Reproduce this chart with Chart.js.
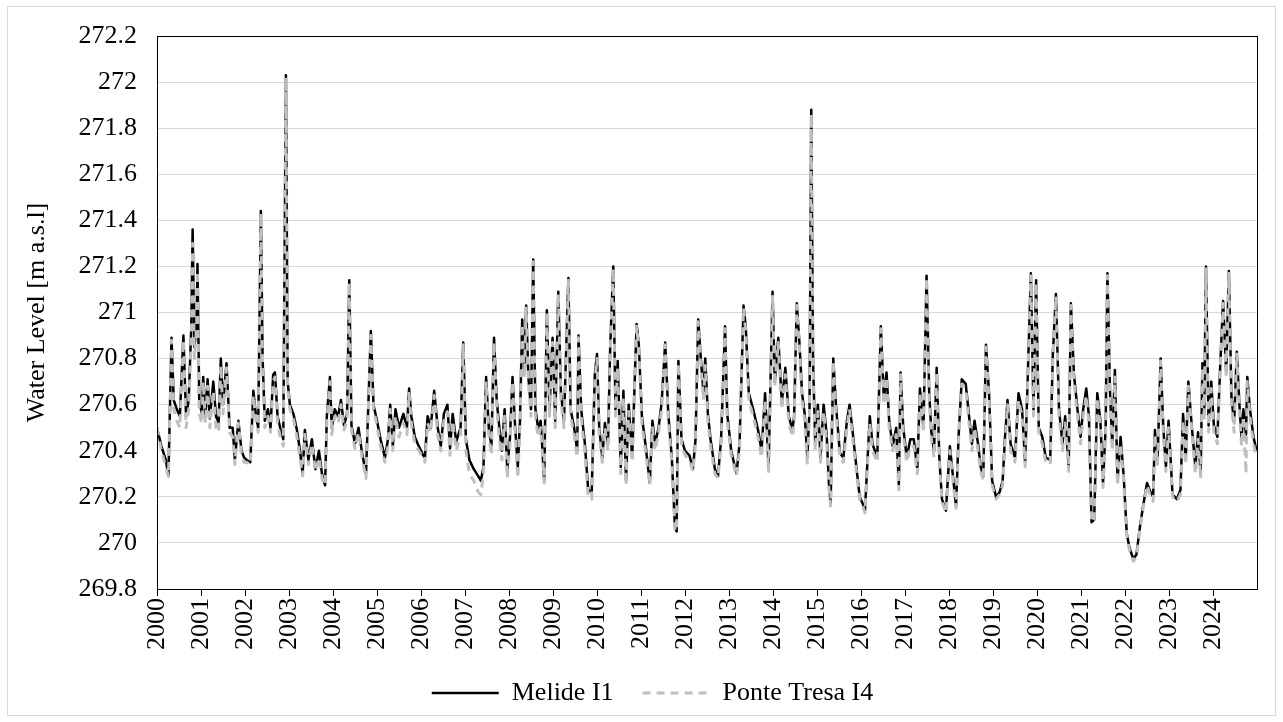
<!DOCTYPE html>
<html lang="en">
<head>
    <meta charset="UTF-8">
    <title>Water Level - Melide I1 / Ponte Tresa I4</title>
    <script src="https://cdn.jsdelivr.net/npm/chart.js"></script>
    <style>
        body { margin: 0; background: #fff; }
        #wrap { width: 1283px; height: 722px; position: relative; }
    </style>
</head>
<body>
    <div id="wrap"><canvas id="levelChart"></canvas></div>

    <script>
        // decimal year of each reading (one row per year)
        const dates = [
            2000.00, 2000.10, 2000.20, 2000.26, 2000.33, 2000.38, 2000.45, 2000.52, 2000.60, 2000.66, 2000.72, 2000.78, 2000.81, 2000.85, 2000.90, 2000.92, 2000.96,
            2001.02, 2001.05, 2001.10, 2001.15, 2001.20, 2001.28, 2001.34, 2001.40, 2001.45, 2001.50, 2001.58, 2001.65, 2001.72, 2001.77, 2001.85, 2001.92, 2001.98,
            2002.04, 2002.12, 2002.19, 2002.25, 2002.30, 2002.36, 2002.40, 2002.45, 2002.52, 2002.58, 2002.64, 2002.68, 2002.74, 2002.80, 2002.87, 2002.93, 2002.97,
            2003.02, 2003.10, 2003.18, 2003.25, 2003.31, 2003.36, 2003.44, 2003.52, 2003.60, 2003.68, 2003.75, 2003.82, 2003.86, 2003.93, 2003.97,
            2004.04, 2004.12, 2004.18, 2004.25, 2004.32, 2004.37, 2004.42, 2004.50, 2004.58, 2004.66, 2004.75, 2004.86, 2004.92,
            2005.00, 2005.08, 2005.18, 2005.25, 2005.30, 2005.36, 2005.42, 2005.50, 2005.60, 2005.68, 2005.73, 2005.78, 2005.86, 2005.95,
            2006.05, 2006.09, 2006.15, 2006.22, 2006.30, 2006.38, 2006.45, 2006.52, 2006.60, 2006.66, 2006.72, 2006.80, 2006.90, 2006.96,
            2007.02, 2007.10, 2007.20, 2007.30, 2007.36, 2007.42, 2007.48, 2007.54, 2007.60, 2007.66, 2007.72, 2007.78, 2007.84, 2007.90, 2007.96,
            2008.02, 2008.08, 2008.14, 2008.20, 2008.25, 2008.30, 2008.35, 2008.39, 2008.44, 2008.50, 2008.55, 2008.60, 2008.66, 2008.72, 2008.80, 2008.86, 2008.92, 2008.99,
            2009.05, 2009.12, 2009.18, 2009.25, 2009.35, 2009.40, 2009.48, 2009.55, 2009.58, 2009.64, 2009.72, 2009.80, 2009.88, 2009.95,
            2010.00, 2010.05, 2010.12, 2010.18, 2010.25, 2010.30, 2010.37, 2010.42, 2010.47, 2010.54, 2010.60, 2010.66, 2010.72, 2010.80, 2010.90, 2010.95,
            2011.02, 2011.10, 2011.20, 2011.26, 2011.32, 2011.40, 2011.47, 2011.55, 2011.62, 2011.70, 2011.77, 2011.81, 2011.85, 2011.92,
            2012.00, 2012.10, 2012.18, 2012.24, 2012.30, 2012.36, 2012.42, 2012.46, 2012.52, 2012.58, 2012.68, 2012.75, 2012.82, 2012.91, 2012.96,
            2013.05, 2013.17, 2013.24, 2013.33, 2013.38, 2013.45, 2013.55, 2013.66, 2013.74, 2013.82, 2013.90, 2013.99,
            2014.04, 2014.12, 2014.20, 2014.28, 2014.36, 2014.44, 2014.48, 2014.54, 2014.60, 2014.66, 2014.72, 2014.78, 2014.83, 2014.87, 2014.91, 2014.96,
            2015.02, 2015.08, 2015.15, 2015.22, 2015.27, 2015.31, 2015.37, 2015.43, 2015.52, 2015.60, 2015.68, 2015.74, 2015.80, 2015.90, 2015.97,
            2016.04, 2016.09, 2016.14, 2016.20, 2016.26, 2016.37, 2016.41, 2016.45, 2016.52, 2016.58, 2016.64, 2016.72, 2016.80, 2016.86, 2016.90, 2016.96,
            2017.04, 2017.12, 2017.20, 2017.28, 2017.34, 2017.42, 2017.49, 2017.55, 2017.60, 2017.66, 2017.72, 2017.78, 2017.84, 2017.93,
            2018.02, 2018.10, 2018.16, 2018.22, 2018.29, 2018.38, 2018.44, 2018.52, 2018.58, 2018.66, 2018.72, 2018.78, 2018.84, 2018.91, 2018.98,
            2019.07, 2019.15, 2019.22, 2019.27, 2019.33, 2019.40, 2019.50, 2019.58, 2019.66, 2019.73, 2019.79, 2019.86, 2019.92, 2019.98,
            2020.04, 2020.12, 2020.20, 2020.30, 2020.36, 2020.43, 2020.50, 2020.58, 2020.64, 2020.72, 2020.77, 2020.84, 2020.92, 2020.99,
            2021.05, 2021.12, 2021.18, 2021.24, 2021.30, 2021.37, 2021.44, 2021.50, 2021.56, 2021.60, 2021.66, 2021.71, 2021.77, 2021.83, 2021.90, 2021.97,
            2022.04, 2022.10, 2022.19, 2022.26, 2022.34, 2022.42, 2022.50, 2022.58, 2022.64, 2022.68, 2022.74, 2022.81, 2022.87, 2022.93, 2022.99,
            2023.08, 2023.18, 2023.26, 2023.32, 2023.38, 2023.44, 2023.52, 2023.60, 2023.66, 2023.72, 2023.76, 2023.80, 2023.84, 2023.90, 2023.96,
            2024.02, 2024.10, 2024.16, 2024.23, 2024.30, 2024.36, 2024.42, 2024.48, 2024.54, 2024.60, 2024.65, 2024.69, 2024.75, 2024.78, 2024.84, 2024.92, 2024.99
        ];

        // Melide I1 water level [m a.s.l]
        const melide = [
            270.50, 270.42, 270.36, 270.29, 270.89, 270.62, 270.58, 270.55, 270.90, 270.55, 270.62, 270.94, 271.36, 270.85, 270.95, 271.21, 270.62,
            270.56, 270.72, 270.55, 270.71, 270.54, 270.70, 270.55, 270.52, 270.80, 270.60, 270.78, 270.50, 270.50, 270.36, 270.53, 270.40, 270.37,
            270.36, 270.35, 270.66, 270.55, 270.50, 271.44, 270.80, 270.53, 270.58, 270.50, 270.73, 270.74, 270.55, 270.50, 270.45, 272.03, 270.70,
            270.60, 270.56, 270.49, 270.40, 270.30, 270.49, 270.36, 270.45, 270.32, 270.40, 270.30, 270.25, 270.55, 270.72, 270.50,
            270.58, 270.55, 270.62, 270.51, 270.56, 271.14, 270.51, 270.43, 270.50, 270.39, 270.30, 270.92, 270.60,
            270.53, 270.45, 270.37, 270.45, 270.60, 270.42, 270.58, 270.50, 270.56, 270.50, 270.67, 270.55, 270.46, 270.42,
            270.38, 270.37, 270.55, 270.50, 270.66, 270.50, 270.42, 270.56, 270.60, 270.41, 270.56, 270.44, 270.50, 270.87,
            270.45, 270.36, 270.32, 270.29, 270.27, 270.33, 270.72, 270.50, 270.42, 270.89, 270.62, 270.50, 270.40, 270.58, 270.32,
            270.45, 270.72, 270.50, 270.33, 270.53, 270.97, 270.75, 271.03, 270.72, 270.58, 271.23, 270.58, 270.50, 270.53, 270.27, 271.01, 270.58, 270.89,
            270.53, 271.09, 270.65, 270.53, 271.15, 270.58, 270.50, 270.40, 270.90, 270.58, 270.44, 270.23, 270.22, 270.73,
            270.82, 270.50, 270.37, 270.52, 270.43, 270.85, 271.20, 270.58, 270.79, 270.33, 270.66, 270.27, 270.60, 270.37, 270.95, 270.86,
            270.55, 270.43, 270.26, 270.53, 270.43, 270.50, 270.61, 270.87, 270.56, 270.37, 270.07, 270.05, 270.79, 270.45,
            270.40, 270.38, 270.32, 270.45, 270.97, 270.80, 270.65, 270.80, 270.56, 270.45, 270.32, 270.29, 270.45, 270.94, 270.56,
            270.40, 270.30, 270.43, 271.03, 270.94, 270.65, 270.58, 270.49, 270.40, 270.65, 270.33, 271.09,
            270.70, 270.89, 270.61, 270.76, 270.55, 270.49, 270.55, 271.04, 270.87, 270.65, 270.56, 270.37, 270.58, 271.88, 270.79, 270.43,
            270.60, 270.37, 270.60, 270.47, 270.26, 270.17, 270.80, 270.60, 270.39, 270.37, 270.53, 270.60, 270.50, 270.32, 270.20,
            270.17, 270.14, 270.33, 270.55, 270.43, 270.37, 270.65, 270.94, 270.62, 270.74, 270.53, 270.42, 270.50, 270.25, 270.74, 270.50,
            270.37, 270.45, 270.45, 270.32, 270.67, 270.50, 271.16, 270.65, 270.48, 270.40, 270.76, 270.37, 270.19, 270.14,
            270.42, 270.27, 270.16, 270.47, 270.71, 270.69, 270.58, 270.43, 270.53, 270.43, 270.33, 270.29, 270.86, 270.65, 270.27,
            270.20, 270.22, 270.27, 270.45, 270.62, 270.43, 270.37, 270.65, 270.58, 270.35, 270.72, 271.17, 270.58, 271.14,
            270.50, 270.46, 270.37, 270.36, 270.82, 271.08, 270.58, 270.43, 270.55, 270.33, 271.04, 270.73, 270.58, 270.46,
            270.58, 270.67, 270.55, 270.09, 270.10, 270.65, 270.53, 270.26, 270.50, 271.17, 270.65, 270.43, 270.75, 270.27, 270.46, 270.29,
            270.04, 269.98, 269.93, 269.95, 270.07, 270.17, 270.26, 270.22, 270.20, 270.49, 270.36, 270.80, 270.50, 270.33, 270.53,
            270.21, 270.19, 270.23, 270.56, 270.36, 270.70, 270.50, 270.33, 270.48, 270.30, 270.78, 270.56, 271.20, 270.51, 270.70,
            270.51, 270.46, 270.75, 271.05, 270.74, 271.18, 270.63, 270.52, 270.83, 270.60, 270.45, 270.58, 270.47, 270.72, 270.58, 270.46, 270.40
        ];

        // Ponte Tresa I4 water level [m a.s.l]
        const ponteTresa = [
            270.50, 270.40, 270.33, 270.29, 270.88, 270.58, 270.53, 270.50, 270.88, 270.50, 270.58, 270.90, 271.30, 270.80, 270.94, 271.18, 270.56,
            270.52, 270.70, 270.52, 270.68, 270.50, 270.66, 270.50, 270.48, 270.77, 270.56, 270.76, 270.48, 270.46, 270.34, 270.52, 270.38, 270.35,
            270.35, 270.34, 270.64, 270.53, 270.48, 271.43, 270.76, 270.50, 270.55, 270.48, 270.70, 270.72, 270.52, 270.46, 270.42, 272.02, 270.68,
            270.58, 270.54, 270.46, 270.37, 270.29, 270.47, 270.34, 270.43, 270.31, 270.37, 270.28, 270.25, 270.53, 270.70, 270.47,
            270.55, 270.52, 270.60, 270.49, 270.53, 271.13, 270.49, 270.41, 270.48, 270.37, 270.28, 270.90, 270.58,
            270.51, 270.42, 270.35, 270.42, 270.58, 270.40, 270.55, 270.46, 270.52, 270.47, 270.65, 270.52, 270.43, 270.40,
            270.37, 270.35, 270.52, 270.48, 270.64, 270.47, 270.40, 270.53, 270.57, 270.38, 270.53, 270.40, 270.47, 270.86,
            270.40, 270.30, 270.27, 270.22, 270.21, 270.30, 270.70, 270.47, 270.38, 270.87, 270.59, 270.45, 270.36, 270.55, 270.28,
            270.42, 270.70, 270.47, 270.28, 270.50, 270.95, 270.72, 271.02, 270.70, 270.55, 271.22, 270.55, 270.46, 270.50, 270.26, 271.00, 270.55, 270.87,
            270.50, 271.08, 270.62, 270.50, 271.14, 270.55, 270.47, 270.37, 270.89, 270.55, 270.40, 270.20, 270.19, 270.70,
            270.80, 270.47, 270.35, 270.50, 270.40, 270.82, 271.19, 270.55, 270.76, 270.30, 270.63, 270.25, 270.57, 270.35, 270.94, 270.84,
            270.52, 270.40, 270.25, 270.50, 270.40, 270.48, 270.58, 270.86, 270.53, 270.35, 270.06, 270.05, 270.78, 270.43,
            270.38, 270.36, 270.31, 270.43, 270.96, 270.78, 270.62, 270.77, 270.53, 270.42, 270.30, 270.28, 270.43, 270.93, 270.53,
            270.38, 270.29, 270.40, 271.02, 270.92, 270.62, 270.55, 270.46, 270.37, 270.62, 270.31, 271.07,
            270.68, 270.87, 270.58, 270.73, 270.52, 270.46, 270.52, 271.03, 270.85, 270.62, 270.53, 270.34, 270.55, 271.86, 270.77, 270.40,
            270.57, 270.35, 270.57, 270.44, 270.24, 270.16, 270.79, 270.57, 270.37, 270.35, 270.50, 270.58, 270.47, 270.30, 270.19,
            270.16, 270.13, 270.31, 270.52, 270.40, 270.35, 270.62, 270.93, 270.60, 270.72, 270.50, 270.40, 270.47, 270.23, 270.73, 270.47,
            270.35, 270.42, 270.42, 270.30, 270.65, 270.48, 271.15, 270.62, 270.45, 270.37, 270.74, 270.35, 270.18, 270.13,
            270.40, 270.25, 270.15, 270.45, 270.69, 270.67, 270.55, 270.40, 270.50, 270.40, 270.31, 270.27, 270.85, 270.62, 270.25,
            270.19, 270.21, 270.25, 270.42, 270.60, 270.40, 270.35, 270.62, 270.55, 270.33, 270.70, 271.16, 270.55, 271.13,
            270.48, 270.43, 270.35, 270.34, 270.80, 271.07, 270.55, 270.40, 270.52, 270.31, 271.03, 270.70, 270.55, 270.43,
            270.55, 270.64, 270.52, 270.09, 270.10, 270.63, 270.50, 270.24, 270.47, 271.16, 270.62, 270.40, 270.72, 270.25, 270.43, 270.27,
            270.03, 269.97, 269.92, 269.94, 270.06, 270.16, 270.25, 270.20, 270.18, 270.47, 270.34, 270.79, 270.47, 270.31, 270.50,
            270.20, 270.18, 270.21, 270.53, 270.34, 270.68, 270.48, 270.30, 270.45, 270.28, 270.76, 270.53, 271.19, 270.48, 270.67,
            270.48, 270.43, 270.73, 271.04, 270.72, 271.17, 270.60, 270.48, 270.82, 270.57, 270.42, 270.55, 270.30, 270.70, 270.55, 270.43, 270.37
        ];

        const yearLabels = ['2000', '2001', '2002', '2003', '2004', '2005', '2006', '2007', '2008', '2009',
            '2010', '2011', '2012', '2013', '2014', '2015', '2016', '2017', '2018', '2019',
            '2020', '2021', '2022', '2023', '2024'];
        const levelTicks = [269.8, 270, 270.2, 270.4, 270.6, 270.8, 271, 271.2, 271.4, 271.6, 271.8, 272, 272.2];

        const serif = "'Liberation Serif', 'Times New Roman', serif";

        // white page, thin grey frame and black box round the plot area
        const framePlugin = {
            id: 'frame',
            beforeDraw(chart) {
                const ctx = chart.ctx;
                ctx.save();
                ctx.fillStyle = '#fff';
                ctx.fillRect(0, 0, chart.width, chart.height);
                ctx.strokeStyle = '#d9d9d9';
                ctx.lineWidth = 1;
                ctx.strokeRect(7.5, 6.5, chart.width - 15, chart.height - 13);
                ctx.restore();
            },
            afterLayout(chart) {
                // legend sits a bit right of the canvas centre
                chart.legend.left += 24;
                chart.legend.right += 24;
            },
            afterDraw(chart) {
                const { left, top, right, bottom } = chart.chartArea;
                const ctx = chart.ctx;
                ctx.save();
                ctx.strokeStyle = '#000';
                ctx.lineWidth = 1;
                ctx.strokeRect(Math.round(left) + 0.5, Math.round(top) + 0.5, Math.round(right - left), Math.round(bottom - top));
                ctx.restore();
            }
        };

        new Chart(document.getElementById('levelChart'), {
            type: 'line',
            data: {
                datasets: [
                    {
                        label: 'Melide I1',
                        data: dates.map((d, i) => ({ x: d, y: melide[i] })),
                        borderColor: '#000',
                        borderWidth: 2.5,
                        order: 1
                    },
                    {
                        label: 'Ponte Tresa I4',
                        data: dates.map((d, i) => ({ x: d, y: ponteTresa[i] })),
                        borderColor: '#bfbfbf',
                        borderWidth: 3,
                        borderDash: [8, 6],
                        order: 0
                    }
                ]
            },
            options: {
                responsive: true,
                maintainAspectRatio: false,
                animation: false,
                layout: { padding: { top: 36, right: 26, bottom: 6, left: 0 } },
                elements: { point: { radius: 0 }, line: { tension: 0, borderJoinStyle: 'round' } },
                scales: {
                    x: {
                        type: 'linear',
                        min: 2000,
                        max: 2025,
                        afterBuildTicks: s => { s.ticks = yearLabels.map(y => ({ value: Number(y) })); },
                        afterFit: s => { s.height = 62; },
                        border: { display: false },
                        grid: { drawOnChartArea: false, drawTicks: true, tickLength: 7, color: '#000' },
                        ticks: {
                            minRotation: 90, maxRotation: 90, padding: 2, autoSkip: false,
                            color: '#000', font: { family: serif, size: 26 },
                            callback: v => String(v)
                        }
                    },
                    y: {
                        min: 269.8,
                        max: 272.2,
                        afterBuildTicks: s => { s.ticks = levelTicks.map(v => ({ value: v })); },
                        afterFit: s => { s.width = 157; },
                        border: { display: false },
                        grid: { color: '#d9d9d9', lineWidth: 1, drawTicks: false },
                        ticks: {
                            padding: 20, color: '#000', font: { family: serif, size: 26 },
                            callback: v => String(Number(v.toFixed(1)))
                        },
                        title: {
                            display: true,
                            text: 'Water Level [m a.s.l]',
                            color: '#000',
                            font: { family: serif, size: 26 },
                            padding: { top: 22, bottom: 0 }
                        }
                    }
                },
                plugins: {
                    legend: {
                        position: 'bottom',
                        labels: {
                            usePointStyle: true,
                            pointStyle: 'line',
                            pointStyleWidth: 67,
                            padding: 29,
                            color: '#000',
                            font: { family: serif, size: 26 },
                            generateLabels: chart => {
                                const items = Chart.defaults.plugins.legend.labels.generateLabels(chart);
                                items.forEach(it => {
                                    const ds = chart.data.datasets[it.datasetIndex];
                                    it.strokeStyle = ds.borderColor;
                                    it.lineWidth = ds.borderWidth;
                                    it.lineDash = ds.borderDash || [];
                                });
                                return items;
                            },
                            sort: (a, b) => a.datasetIndex - b.datasetIndex
                        }
                    },
                    tooltip: { enabled: false }
                }
            },
            plugins: [framePlugin]
        });
    </script>
</body>
</html>
